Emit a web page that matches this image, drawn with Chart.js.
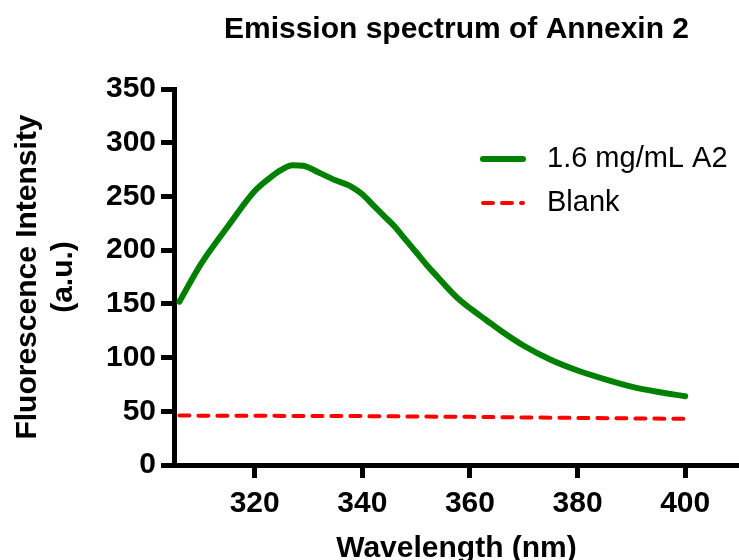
<!DOCTYPE html>
<html>
<head>
<meta charset="utf-8">
<title>Emission spectrum of Annexin 2</title>
<script src="https://cdn.jsdelivr.net/npm/chart.js@4.4.1/dist/chart.umd.min.js"></script>
<style>
  html, body { margin: 0; padding: 0; background: #fff; }
</style>
</head>
<body>
<canvas id="mycanvas" width="739" height="560"></canvas>
<script>
// emission scan, 1.6 mg/mL annexin A2
var wavelength = [306, 310, 315, 320, 323, 325, 327, 329, 332, 335, 338, 340, 342, 344, 346, 348, 350,
                  352, 354, 356, 358, 360, 363, 366, 370, 375, 380, 385, 390, 395, 400];
var intensityA2 = [152, 187, 222, 255, 268, 275, 279, 278.5, 272, 265, 259, 252, 242, 232, 222, 210, 198,
                   186, 175, 164, 154, 146, 135, 124, 111, 98, 88, 80, 73, 68, 64];

// buffer only
var blankWavelength = [306, 320, 340, 360, 380, 400];
var blankIntensity = [46, 45.8, 45.5, 44.8, 43.8, 43];

var xTicks = [320, 340, 360, 380, 400];
var xMin = 305, xMax = 410;
var yMin = 0, yMax = 350, yStep = 50;

var seriesLabels = ['1.6 mg/mL A2', 'Blank'];

function toPoints(xs, ys) {
  var pts = [];
  for (var i in xs) {
    pts.push({x: xs[i], y: ys[i]});
  }
  return pts;
}

var FONT = "'Liberation Sans', Arial, Helvetica, sans-serif";

// legend in the upper right of the plot, drawn with each dataset's own line style
var lineLegend = {
  id: 'lineLegend',
  afterDraw: function(chart) {
    var ctx = chart.ctx;
    var sets = chart.data.datasets;
    ctx.save();
    for (var i = 0; i < sets.length; i++) {
      var y = 159 + i * 44;
      ctx.beginPath();
      ctx.strokeStyle = sets[i].borderColor;
      ctx.lineWidth = sets[i].borderWidth;
      ctx.lineCap = 'round';
      ctx.setLineDash(sets[i].borderDash || []);
      ctx.moveTo(483, y);
      ctx.lineTo(523, y);
      ctx.stroke();
      ctx.setLineDash([]);
      ctx.fillStyle = '#000';
      ctx.font = '29px ' + FONT;
      ctx.textBaseline = 'middle';
      ctx.textAlign = 'left';
      ctx.fillText(sets[i].label, 547, y);
    }
    ctx.restore();
  }
};

var chartdata = {
  datasets: [
    {
      label: seriesLabels[0],
      data: toPoints(wavelength, intensityA2),
      borderColor: '#008000',
      backgroundColor: '#008000',
      borderWidth: 6,
      borderCapStyle: 'round',
      borderJoinStyle: 'round',
      cubicInterpolationMode: 'monotone',
      pointRadius: 0,
      fill: false
    },
    {
      label: seriesLabels[1],
      data: toPoints(blankWavelength, blankIntensity),
      borderColor: '#ff0000',
      backgroundColor: '#ff0000',
      borderWidth: 4,
      borderDash: [10, 9],
      borderCapStyle: 'round',
      pointRadius: 0,
      fill: false
    }
  ]
};

var ctx = document.getElementById('mycanvas');

var spectrum = new Chart(ctx, {
  type: 'line',
  data: chartdata,
  plugins: [lineLegend],
  options: {
    responsive: false,
    animation: false,
    devicePixelRatio: 1,
    layout: { padding: 0 },
    plugins: {
      legend: { display: false },
      tooltip: { enabled: false },
      title: {
        display: true,
        text: 'Emission spectrum of Annexin 2',
        fullSize: false,
        color: '#000',
        font: { family: FONT, size: 30, weight: 'bold' },
        padding: { top: 11.5, bottom: 41.5 }
      }
    },
    scales: {
      x: {
        type: 'linear',
        min: xMin,
        max: xMax,
        afterBuildTicks: function(scale) {
          scale.ticks = xTicks.map(function(v) { return {value: v}; });
        },
        afterFit: function(scale) { scale.height = 95; },
        border: { display: true, color: '#000', width: 5 },
        grid: { drawOnChartArea: false, drawTicks: true, tickLength: 13, tickWidth: 5, tickColor: '#000' },
        ticks: { color: '#000', padding: 8, font: { family: FONT, size: 30, weight: 'bold' } },
        title: {
          display: true,
          text: 'Wavelength (nm)',
          color: '#000',
          font: { family: FONT, size: 30, weight: 'bold' },
          padding: { top: 0, bottom: -7 }
        }
      },
      y: {
        min: yMin,
        max: yMax,
        afterFit: function(scale) { scale.width = 174; },
        border: { display: true, color: '#000', width: 5 },
        grid: { drawOnChartArea: false, drawTicks: true, tickLength: 13, tickWidth: 5, tickColor: '#000' },
        ticks: { stepSize: yStep, color: '#000', padding: 5, font: { family: FONT, size: 30, weight: 'bold' } },
        title: {
          display: true,
          text: ['Fluorescence Intensity', '(a.u.)'],
          color: '#000',
          font: { family: FONT, size: 30, weight: 'bold' },
          padding: { top: 10, bottom: 0 }
        }
      }
    }
  }
});
</script>
</body>
</html>
